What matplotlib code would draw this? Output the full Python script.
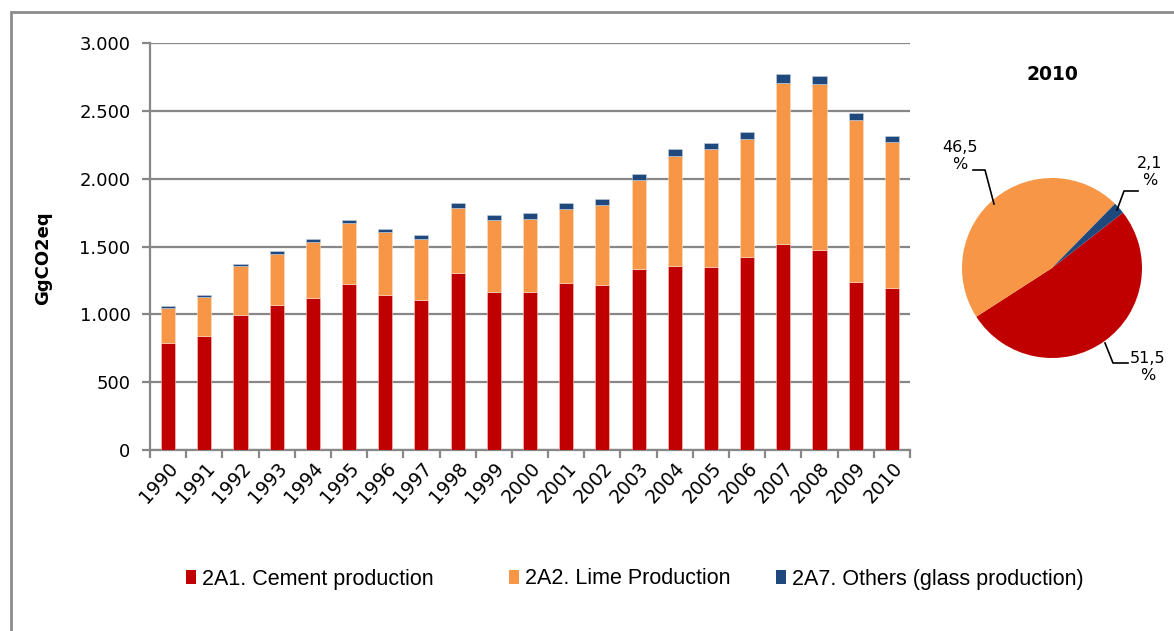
import matplotlib
matplotlib.use("Agg")
from matplotlib import pyplot as plt
from matplotlib.patches import Rectangle, Patch
import numpy as np

years = [str(y) for y in range(1990, 2011)]
cement = [791, 843, 993, 1066, 1123, 1226, 1145, 1106, 1307, 1165, 1165,
          1229, 1214, 1337, 1354, 1351, 1420, 1521, 1477, 1241, 1194]
lime = [258, 287, 361, 381, 413, 450, 460, 447, 479, 530, 538,
        550, 592, 653, 815, 868, 870, 1184, 1221, 1191, 1073]
others = [12, 15, 17, 20, 17, 19, 22, 30, 32, 35, 41,
          39, 42, 42, 47, 46, 54, 64, 61, 54, 50]

pie_labels = ["51,5\n%", "46,5\n%", "2,1\n%"]
pie_share = [51.5, 46.5, 2.1]

series_names = ["2A1. Cement production", "2A2. Lime Production",
                "2A7. Others (glass production)"]
colors = ["#C00000", "#F79646", "#1F497D"]
grid_col = "#878787"

W, H = 1174, 631
fig = plt.figure(figsize=(W / 100, H / 100), dpi=100)

# outer frame
fig.patches.append(Rectangle((11 / W, -0.1), 1.2, (H - 12) / H + 0.1,
                             transform=fig.transFigure, fill=False,
                             edgecolor="#8c8c8c", linewidth=2))

# ---- stacked bars
ax = fig.add_axes([150 / W, 1 - 450 / H, 760 / W, 407 / H])
x = np.arange(len(years))
c = np.array(cement)
l = np.array(lime)
o = np.array(others)
ax.bar(x, c, width=0.39, color=colors[0], edgecolor="#f4c7c3", linewidth=0.4, zorder=3)
ax.bar(x, l, width=0.39, bottom=c, color=colors[1], edgecolor="#fde0c8", linewidth=0.4, zorder=3)
ax.bar(x, o, width=0.39, bottom=c + l, color=colors[2], edgecolor="#c6d0de", linewidth=0.4, zorder=3)

ax.set_xlim(-0.5, len(years) - 0.5)
ax.set_ylim(0, 3000)
ax.set_yticks(range(0, 3001, 500))
ax.set_yticklabels(["0", "500", "1.000", "1.500", "2.000", "2.500", "3.000"],
                   fontsize=13, family="DejaVu Sans")
ax.yaxis.grid(True, color=grid_col, linewidth=1.6, zorder=0)
ax.set_axisbelow(True)

ax.set_xticks(x)
ax.set_xticklabels(years, rotation=48, ha="right", va="top",
                   rotation_mode="anchor", fontsize=13.5)
ax.tick_params(axis="x", length=0, pad=6)
ax.set_xticks(np.arange(-0.5, len(years)), minor=True)
ax.tick_params(axis="x", which="minor", length=6, color=grid_col, width=1.6)
ax.tick_params(axis="y", length=6, color=grid_col, width=1.6, pad=8)

for side in ["top", "right"]:
    ax.spines[side].set_visible(False)
for side in ["left", "bottom"]:
    ax.spines[side].set_color(grid_col)
    ax.spines[side].set_linewidth(1.6)

fig.text(43 / W, 1 - 258 / H, "GgCO2eq", rotation=90, fontsize=13,
         fontweight="bold", ha="center", va="center")

# ---- pie for the last year
pax = fig.add_axes([962 / W, 1 - 358 / H, 180 / W, 180 / H])
pax.pie(pie_share, colors=colors, startangle=38, counterclock=False,
        wedgeprops=dict(linewidth=0))
pax.set_xlim(-1, 1)
pax.set_ylim(-1, 1)
pax.set_aspect("equal")
pax.axis("off")


def pxy(px, py):
    return ((px - 1052) / 90, (268 - py) / 90)


label_pos = [(1148, 367), (960, 156), (1150, 172)]
leaders = [
    [(1105, 343), (1113, 363), (1128, 363)],
    [(973, 170), (985, 170), (994, 204)],
    [(1138, 191), (1124, 191), (1117, 210)],
]
for lab, pos, pts in zip(pie_labels, label_pos, leaders):
    tx, ty = pxy(*pos)
    pax.text(tx, ty, lab, ha="center", va="center", fontsize=11.5,
             linespacing=1.1, clip_on=False)
    xs, ys = zip(*[pxy(*p) for p in pts])
    pax.plot(xs, ys, color="black", linewidth=1.2, clip_on=False)

fig.text(1052 / W, 1 - 74 / H, "2010", fontsize=13.5, fontweight="bold",
         ha="center", va="center")

# ---- legend, one entry per box so each sits where it should
legend_x = [186, 509, 776]
for col, name, lx in zip(colors, series_names, legend_x):
    fig.legend([Patch(facecolor=col, edgecolor="none")], [name],
               loc="center left", bbox_to_anchor=(lx / W, 1 - 579 / H),
               frameon=False, borderaxespad=0, borderpad=0,
               prop={"family": "Liberation Sans", "size": 15.5},
               handlelength=0.45, handleheight=0.65, handletextpad=0.3)

fig.savefig("out.png", dpi=100)
